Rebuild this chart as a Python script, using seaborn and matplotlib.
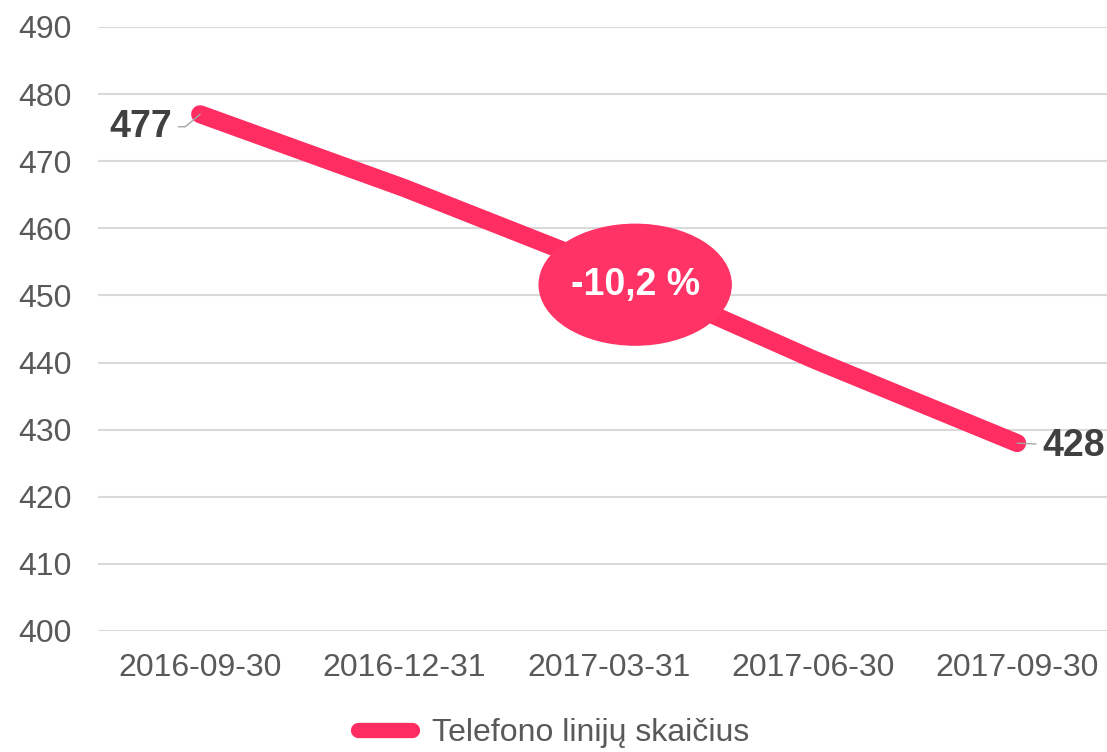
import matplotlib
matplotlib.use("Agg")
import matplotlib.pyplot as plt
from matplotlib.patches import Ellipse
import seaborn as sns
import pandas as pd

# data
dates = ['2016-09-30', '2016-12-31', '2017-03-31', '2017-06-30', '2017-09-30']
lines = [477, 466, 454, 440.5, 428]
series_name = 'Telefono linijų skaičius'
change_label = '-10,2 %'

df = pd.DataFrame({'date': dates, 'value': lines, 'series': series_name})
df['pos'] = range(len(df))

sns.set_style("white")
plt.rcParams['font.family'] = ['Liberation Sans', 'DejaVu Sans']

pink = '#FF2D62'
fig = plt.figure(figsize=(11.07, 7.52), dpi=100)
ax = fig.add_axes([98/1107, 1 - 631/752, 1 - 98/1107, (631 - 27)/752])

sns.lineplot(data=df, x='pos', y='value', hue='series', palette=[pink],
             linewidth=13, ax=ax, solid_capstyle='round', legend=True)

ax.set_ylim(400, 490)
ax.set_xlim(-0.5, 4.44)
ax.set_yticks(range(400, 491, 10))
ax.set_xticks(df['pos'])
ax.set_xticklabels(dates)
ax.grid(axis='y', color='#d9d9d9', lw=1.5)
ax.set_axisbelow(True)
for s in ax.spines.values():
    s.set_visible(False)
ax.tick_params(axis='both', length=0, labelsize=23, colors='#595959')
ax.tick_params(axis='x', pad=16)
ax.tick_params(axis='y', pad=19)
ax.set_xlabel('')
ax.set_ylabel('')

# end labels with leader lines
first, last = df.iloc[0], df.iloc[-1]
ax.annotate(f"{first['value']:g}", xy=(first['pos'], first['value']),
            xytext=(-20, -9), textcoords='offset points', ha='right', va='center',
            fontsize=27, fontweight='bold', color='#404040',
            arrowprops=dict(arrowstyle='-', color='#a6a6a6', lw=1, shrinkA=2, shrinkB=0,
                            connectionstyle='angle,angleA=0,angleB=40,rad=0'))
ax.annotate(f"{last['value']:g}", xy=(last['pos'], last['value']),
            xytext=(18, -2), textcoords='offset points', ha='left', va='center',
            fontsize=27, fontweight='bold', color='#404040',
            arrowprops=dict(arrowstyle='-', color='#a6a6a6', lw=1, shrinkA=2, shrinkB=0))

# change bubble
ax.add_patch(Ellipse((2.13, 451.6), 0.94, 18, color='#FF3366', zorder=5))
ax.text(2.13, 451.6, change_label, ha='center', va='center', fontsize=27,
        fontweight='bold', color='white', zorder=6)

handles, labels = ax.get_legend_handles_labels()
ax.get_legend().remove()
leg = fig.legend(handles, labels, loc='center', bbox_to_anchor=(0.5, 1 - 733/752),
                 frameon=False, fontsize=23, handlelength=1.7, handletextpad=0.6,
                 borderpad=0)
for t in leg.get_texts():
    t.set_color('#595959')
for h in leg.get_lines():
    h.set_linewidth(11)
    h.set_solid_capstyle('round')

plt.savefig('out.png', dpi=100)
